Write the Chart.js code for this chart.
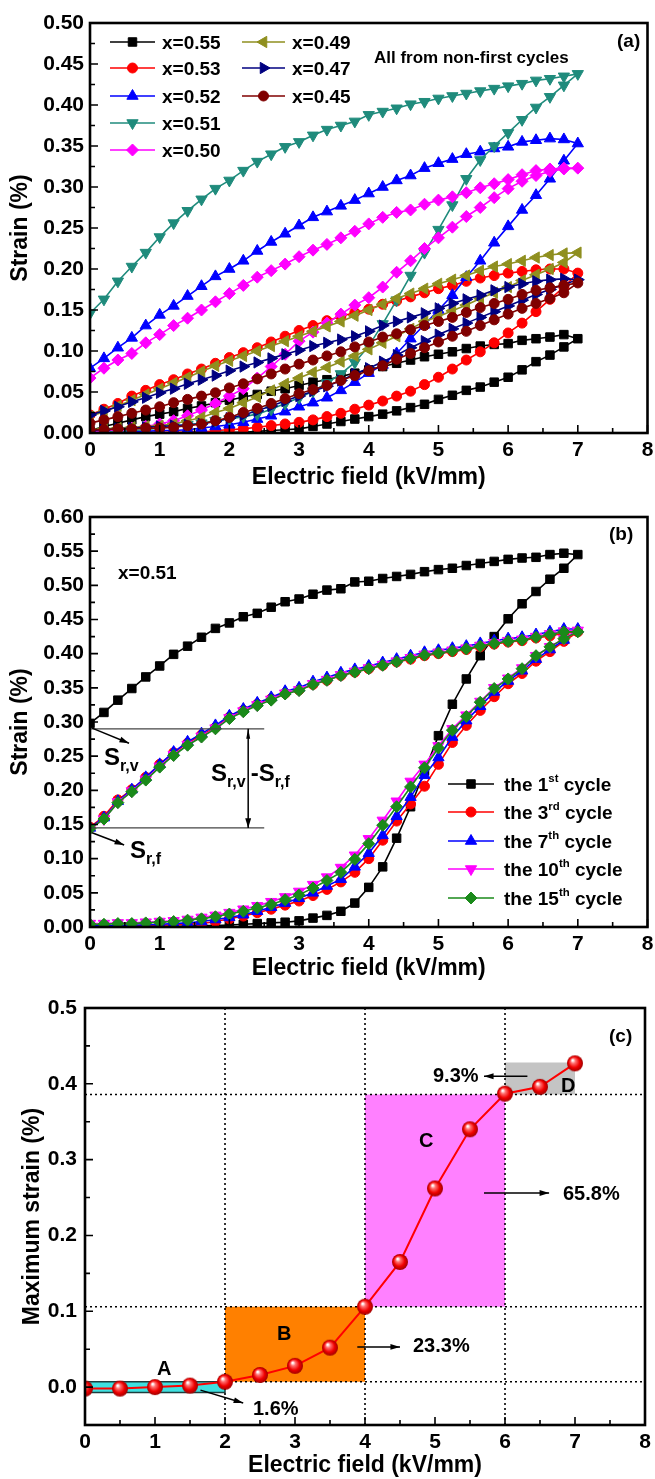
<!DOCTYPE html>
<html>
<head>
<meta charset="utf-8">
<title>Strain loops</title>
<script src="https://cdn.jsdelivr.net/npm/chart.js@4.4.1/dist/chart.umd.min.js"></script>
<style>
  body { margin: 0; background: #fff; }
  #page { position: relative; width: 655px; height: 1479px; overflow: hidden;
          font-family: "Liberation Sans", Arial, sans-serif; font-weight: bold; color: #000; }
  #page canvas { position: absolute; left: 0; }
  .t { position: absolute; white-space: nowrap; line-height: 1; transform: translateY(-50%); }
  .t sup { font-size: 0.6em; vertical-align: baseline; position: relative; top: -0.75em; }
  .t sub { font-size: 16px; vertical-align: baseline; position: relative; top: 6px; }
</style>
</head>
<body>
<div id="page">
  <canvas id="chartA" width="655" height="495" style="top:0"></canvas>
  <canvas id="chartB" width="655" height="490" style="top:495px"></canvas>
  <canvas id="chartC" width="655" height="494" style="top:985px"></canvas>

  <!-- (a) -->
  <div class="t" style="left:162px;top:42px;font-size:19px">x=0.55</div>
  <div class="t" style="left:162px;top:68px;font-size:19px">x=0.53</div>
  <div class="t" style="left:162px;top:96px;font-size:19px">x=0.52</div>
  <div class="t" style="left:162px;top:123px;font-size:19px">x=0.51</div>
  <div class="t" style="left:162px;top:150px;font-size:19px">x=0.50</div>
  <div class="t" style="left:292px;top:42px;font-size:19px">x=0.49</div>
  <div class="t" style="left:292px;top:68px;font-size:19px">x=0.47</div>
  <div class="t" style="left:292px;top:96px;font-size:19px">x=0.45</div>
  <div class="t" style="left:374px;top:57px;font-size:17px">All from non-first cycles</div>
  <div class="t" style="left:617px;top:40px;font-size:19px">(a)</div>

  <!-- (b) -->
  <div class="t" style="left:609px;top:533px;font-size:19px">(b)</div>
  <div class="t" style="left:118px;top:572px;font-size:19px">x=0.51</div>
  <div class="t" style="left:104px;top:757px;font-size:24px">S<sub>r,v</sub></div>
  <div class="t" style="left:211px;top:773px;font-size:24px">S<sub>r,v</sub><span style="margin-left:5px">-S</span><sub>r,f</sub></div>
  <div class="t" style="left:130px;top:850px;font-size:24px">S<sub>r,f</sub></div>
  <div class="t" style="left:504px;top:784px;font-size:19px">the 1<sup>st</sup> cycle</div>
  <div class="t" style="left:504px;top:812px;font-size:19px">the 3<sup>rd</sup> cycle</div>
  <div class="t" style="left:504px;top:841px;font-size:19px">the 7<sup>th</sup> cycle</div>
  <div class="t" style="left:504px;top:869px;font-size:19px">the 10<sup>th</sup> cycle</div>
  <div class="t" style="left:504px;top:898px;font-size:19px">the 15<sup>th</sup> cycle</div>

  <!-- (c) -->
  <div class="t" style="left:609px;top:1035px;font-size:19px">(c)</div>
  <div class="t" style="left:433px;top:1075px;font-size:20px">9.3%</div>
  <div class="t" style="left:561px;top:1085px;font-size:20px">D</div>
  <div class="t" style="left:419px;top:1140px;font-size:20px">C</div>
  <div class="t" style="left:563px;top:1193px;font-size:20px">65.8%</div>
  <div class="t" style="left:277px;top:1333px;font-size:20px">B</div>
  <div class="t" style="left:413px;top:1345px;font-size:20px">23.3%</div>
  <div class="t" style="left:157px;top:1368px;font-size:20px">A</div>
  <div class="t" style="left:253px;top:1408px;font-size:20px">1.6%</div>
</div>

<script>
const FONT = '"Liberation Sans", Arial, sans-serif';
Chart.defaults.font.family = FONT;
Chart.defaults.color = '#000';

// field steps of the loops (kV/mm)
const field = [0,0.2,0.4,0.6,0.8,1,1.2,1.4,1.6,1.8,2,2.2,2.4,2.6,2.8,3,3.2,3.4,3.6,3.8,
               4,4.2,4.4,4.6,4.8,5,5.2,5.4,5.6,5.8,6,6.2,6.4,6.6,6.8,7];

// (a) non-first cycles, rising field (Up) and falling field (Down), strain in %
const a55Up   = [0,0,0,0,0,0,0,0.001,0.001,0.001,0.001,0.001,0.002,0.003,0.004,0.005,0.008,0.011,0.014,0.017,0.02,0.023,0.027,0.031,0.035,0.041,0.046,0.052,0.056,0.062,0.068,0.077,0.087,0.095,0.105,0.115];
const a55Down = [0.003,0.008,0.012,0.016,0.02,0.023,0.026,0.03,0.033,0.037,0.04,0.044,0.047,0.051,0.054,0.058,0.062,0.065,0.069,0.073,0.077,0.081,0.085,0.089,0.093,0.096,0.099,0.103,0.106,0.108,0.109,0.113,0.115,0.117,0.12,0.115];
const a53Up   = [0.001,0.001,0.001,0.001,0.001,0.001,0.001,0.001,0.001,0.003,0.004,0.005,0.007,0.009,0.011,0.013,0.016,0.02,0.024,0.029,0.034,0.039,0.045,0.051,0.059,0.068,0.078,0.089,0.099,0.11,0.122,0.134,0.148,0.163,0.178,0.195];
const a53Down = [0.022,0.029,0.036,0.045,0.052,0.059,0.065,0.072,0.078,0.085,0.092,0.098,0.104,0.111,0.118,0.125,0.131,0.137,0.142,0.147,0.151,0.157,0.161,0.166,0.171,0.176,0.18,0.185,0.189,0.192,0.195,0.197,0.199,0.2,0.2,0.195];
const a52Up   = [0.001,0.001,0.001,0.002,0.002,0.003,0.003,0.004,0.006,0.008,0.01,0.013,0.017,0.021,0.026,0.032,0.037,0.043,0.052,0.062,0.073,0.083,0.097,0.115,0.132,0.15,0.168,0.19,0.21,0.232,0.252,0.272,0.29,0.31,0.332,0.353];
const a52Down = [0.079,0.091,0.104,0.116,0.131,0.144,0.155,0.167,0.179,0.191,0.2,0.21,0.222,0.233,0.243,0.253,0.263,0.27,0.277,0.284,0.292,0.3,0.308,0.314,0.323,0.329,0.334,0.34,0.343,0.347,0.349,0.355,0.357,0.359,0.358,0.353];
const a51Up   = [0.001,0.002,0.002,0.003,0.004,0.006,0.008,0.01,0.012,0.015,0.017,0.02,0.023,0.029,0.036,0.043,0.051,0.061,0.072,0.086,0.106,0.133,0.162,0.192,0.22,0.248,0.278,0.31,0.333,0.35,0.366,0.382,0.397,0.41,0.424,0.438];
const a51Down = [0.146,0.163,0.185,0.203,0.22,0.239,0.256,0.271,0.285,0.298,0.308,0.32,0.331,0.34,0.349,0.355,0.363,0.37,0.375,0.38,0.388,0.392,0.396,0.401,0.404,0.408,0.411,0.414,0.417,0.42,0.423,0.426,0.43,0.432,0.435,0.438];
const a50Up   = [0.002,0.003,0.004,0.006,0.008,0.011,0.015,0.021,0.028,0.036,0.045,0.054,0.067,0.081,0.096,0.112,0.123,0.134,0.145,0.156,0.165,0.178,0.196,0.21,0.225,0.238,0.251,0.264,0.275,0.287,0.298,0.307,0.314,0.319,0.322,0.323];
const a50Down = [0.067,0.079,0.089,0.097,0.11,0.12,0.131,0.14,0.15,0.16,0.17,0.18,0.19,0.198,0.206,0.215,0.223,0.23,0.238,0.246,0.255,0.263,0.269,0.272,0.279,0.284,0.288,0.293,0.299,0.304,0.309,0.315,0.32,0.322,0.323,0.323];
const a49Up   = [0.004,0.005,0.006,0.007,0.008,0.009,0.011,0.015,0.019,0.025,0.03,0.037,0.044,0.052,0.06,0.067,0.074,0.08,0.087,0.094,0.102,0.11,0.118,0.127,0.136,0.142,0.149,0.156,0.164,0.171,0.178,0.186,0.193,0.2,0.208,0.22];
const a49Down = [0.02,0.026,0.033,0.04,0.047,0.054,0.061,0.068,0.075,0.082,0.088,0.094,0.1,0.106,0.112,0.118,0.124,0.13,0.136,0.143,0.15,0.157,0.164,0.17,0.176,0.182,0.187,0.192,0.198,0.203,0.206,0.21,0.214,0.217,0.219,0.22];
const a47Up   = [0.003,0.004,0.005,0.006,0.007,0.008,0.009,0.01,0.011,0.014,0.018,0.022,0.027,0.033,0.039,0.045,0.051,0.057,0.064,0.072,0.079,0.087,0.095,0.104,0.112,0.12,0.127,0.134,0.141,0.148,0.155,0.162,0.169,0.175,0.181,0.187];
const a47Down = [0.022,0.027,0.032,0.038,0.043,0.049,0.054,0.06,0.065,0.07,0.076,0.081,0.086,0.091,0.096,0.101,0.106,0.11,0.114,0.118,0.124,0.131,0.136,0.141,0.146,0.152,0.158,0.163,0.168,0.174,0.178,0.182,0.185,0.187,0.188,0.187];
const a45Up   = [0.004,0.004,0.005,0.005,0.006,0.006,0.007,0.009,0.011,0.015,0.019,0.025,0.03,0.036,0.042,0.048,0.053,0.058,0.064,0.07,0.076,0.082,0.09,0.097,0.104,0.111,0.118,0.124,0.131,0.138,0.145,0.152,0.158,0.164,0.171,0.183];
const a45Down = [0.012,0.016,0.02,0.024,0.028,0.032,0.037,0.041,0.045,0.049,0.055,0.06,0.066,0.072,0.078,0.084,0.089,0.094,0.099,0.105,0.111,0.117,0.121,0.126,0.131,0.136,0.141,0.147,0.153,0.158,0.163,0.169,0.174,0.177,0.18,0.183];

// (b) x=0.51, cycle number 1, 3, 7, 10, 15
const b1Up    = [0.001,0.001,0.001,0.001,0.001,0.001,0.001,0.001,0.002,0.002,0.003,0.004,0.005,0.006,0.007,0.009,0.013,0.017,0.023,0.035,0.058,0.088,0.13,0.176,0.228,0.28,0.326,0.363,0.397,0.425,0.451,0.473,0.491,0.509,0.525,0.545];
const b1Down  = [0.298,0.314,0.332,0.349,0.366,0.382,0.399,0.411,0.424,0.437,0.445,0.454,0.459,0.468,0.476,0.48,0.487,0.493,0.495,0.505,0.506,0.51,0.513,0.516,0.52,0.523,0.525,0.529,0.532,0.535,0.538,0.54,0.541,0.545,0.547,0.545];
const b3Up    = [0.001,0.001,0.001,0.002,0.002,0.003,0.003,0.004,0.005,0.008,0.012,0.016,0.021,0.026,0.032,0.038,0.046,0.055,0.066,0.08,0.1,0.127,0.155,0.18,0.206,0.238,0.27,0.295,0.317,0.337,0.356,0.371,0.389,0.403,0.418,0.432];
const b3Down  = [0.146,0.162,0.186,0.201,0.219,0.238,0.255,0.269,0.281,0.292,0.307,0.317,0.326,0.334,0.342,0.347,0.355,0.361,0.368,0.373,0.378,0.383,0.388,0.392,0.397,0.4,0.403,0.406,0.41,0.414,0.417,0.419,0.423,0.426,0.43,0.432];
const b7Up    = [0.002,0.002,0.002,0.003,0.003,0.004,0.005,0.006,0.008,0.011,0.014,0.018,0.023,0.029,0.035,0.042,0.05,0.06,0.07,0.088,0.108,0.134,0.162,0.19,0.222,0.248,0.278,0.302,0.323,0.344,0.36,0.375,0.392,0.406,0.42,0.436];
const b7Down  = [0.145,0.16,0.184,0.201,0.219,0.238,0.256,0.271,0.283,0.295,0.309,0.319,0.328,0.336,0.345,0.35,0.359,0.365,0.372,0.377,0.382,0.387,0.392,0.397,0.402,0.405,0.408,0.411,0.415,0.419,0.422,0.424,0.428,0.432,0.436,0.436];
const b10Up   = [0.005,0.005,0.006,0.006,0.007,0.008,0.009,0.011,0.014,0.017,0.021,0.026,0.031,0.037,0.044,0.052,0.062,0.073,0.087,0.105,0.129,0.156,0.184,0.213,0.238,0.265,0.29,0.31,0.33,0.35,0.364,0.379,0.397,0.41,0.422,0.434];
const b10Down = [0.144,0.158,0.183,0.199,0.216,0.235,0.252,0.267,0.279,0.291,0.306,0.316,0.325,0.333,0.342,0.347,0.356,0.362,0.369,0.374,0.379,0.384,0.389,0.394,0.399,0.402,0.405,0.408,0.412,0.416,0.419,0.421,0.425,0.429,0.433,0.434];
const b15Up   = [0.004,0.004,0.005,0.005,0.006,0.007,0.008,0.01,0.012,0.015,0.019,0.023,0.028,0.033,0.04,0.047,0.057,0.068,0.08,0.099,0.122,0.149,0.176,0.205,0.233,0.262,0.288,0.308,0.329,0.349,0.363,0.378,0.397,0.41,0.422,0.432];
const b15Down = [0.144,0.158,0.182,0.198,0.215,0.234,0.251,0.266,0.278,0.29,0.305,0.315,0.324,0.332,0.341,0.346,0.355,0.361,0.368,0.373,0.378,0.383,0.388,0.393,0.398,0.401,0.404,0.407,0.411,0.415,0.418,0.42,0.424,0.428,0.432,0.432];

// (c) maximum strain vs field
const cField  = [0,0.5,1,1.5,2,2.5,3,3.5,4,4.5,5,5.5,6,6.5,7];
const cStrain = [-0.002,-0.002,0,0.002,0.007,0.016,0.028,0.052,0.106,0.165,0.262,0.34,0.387,0.396,0.427];
// shaded stages A-D and the dotted guides
const stageLeft  = [0, 2, 4, 6];
const stageRight = [2, 4, 6, 7];
const stageLow   = [-0.007, 0.007, 0.106, 0.386];
const stageHigh  = [0.007, 0.106, 0.386, 0.428];
const guideX     = [2, 4, 6];
const guideY     = [0.007, 0.106, 0.386];
const guideYFrom = [2, 0, 0];

// (b) remanent strain levels
const srLevels = [0.29, 0.145];
const srEnd = 2.5;

// ticks
const xTicks  = [0,1,2,3,4,5,6,7,8];
const xMinor  = [0.5,1.5,2.5,3.5,4.5,5.5,6.5,7.5];
const yTicksA = [0,0.05,0.1,0.15,0.2,0.25,0.3,0.35,0.4,0.45,0.5];
const yMinorA = [0.025,0.075,0.125,0.175,0.225,0.275,0.325,0.375,0.425,0.475];
const yTicksB = [0,0.05,0.1,0.15,0.2,0.25,0.3,0.35,0.4,0.45,0.5,0.55,0.6];
const yMinorB = [0.025,0.075,0.125,0.175,0.225,0.275,0.325,0.375,0.425,0.475,0.525,0.575];
const yTicksC = [0,0.1,0.2,0.3,0.4,0.5];
const yMinorC = [0.05,0.15,0.25,0.35,0.45];

// one loop: rising branch then falling branch back to zero
function makeLoop(up, down) {
  const pts = field.map((f, i) => ({ x: f, y: up[i] }));
  for (let i = field.length - 2; i >= 0; i--) pts.push({ x: field[i], y: down[i] });
  return pts;
}

function loopDataset(label, up, down, color, style, rotation, radius, i) {
  return {
    label: label,
    data: makeLoop(up, down),
    borderColor: color,
    backgroundColor: color,
    pointBackgroundColor: color,
    pointBorderColor: color,
    pointBorderWidth: 1,
    pointStyle: style,
    pointRotation: rotation,
    pointRadius: radius,
    borderWidth: 1.6,
    order: -i
  };
}

function axes(o) {
  return {
    x: {
      type: 'linear', min: 0, max: 8,
      afterBuildTicks: s => { s.ticks = xTicks.map(v => ({ value: v })); },
      afterFit: s => { s.height = o.xHeight; s.paddingLeft = 0; s.paddingRight = 0; },
      grid: { display: false, drawTicks: false },
      border: { display: false },
      ticks: { font: { size: 21, weight: 'bold' }, color: '#000', padding: 5, maxRotation: 0, autoSkip: false },
      title: { display: true, text: 'Electric field (kV/mm)', font: { size: 23, weight: 'bold' }, color: '#000',
               padding: { top: 0, bottom: o.xTitlePad } }
    },
    y: {
      min: o.yMin, max: o.yMax,
      afterBuildTicks: s => { s.ticks = o.yTicks.map(v => ({ value: v })); },
      afterFit: s => { s.width = o.yWidth; s.paddingTop = 0; s.paddingBottom = 0; },
      grid: { display: false, drawTicks: false },
      border: { display: false },
      ticks: { font: { size: 21, weight: 'bold' }, color: '#000', padding: o.yPad, autoSkip: false,
               callback: v => v.toFixed(o.digits) },
      title: { display: true, text: o.yTitle, font: { size: 23, weight: 'bold' }, color: '#000',
               padding: { top: o.yTitlePad, bottom: 0 } }
    }
  };
}

// frame box with inward major/minor ticks
function framePlugin(yMinor) {
  return {
    id: 'frame',
    afterDraw(chart) {
      const { ctx, chartArea: a } = chart;
      const sx = chart.scales.x, sy = chart.scales.y;
      ctx.save();
      ctx.strokeStyle = '#000';
      ctx.lineWidth = 1.6;
      ctx.beginPath();
      sx.ticks.forEach(t => { const p = sx.getPixelForValue(t.value); ctx.moveTo(p, a.bottom); ctx.lineTo(p, a.bottom - 8); });
      xMinor.forEach(v => { const p = sx.getPixelForValue(v); ctx.moveTo(p, a.bottom); ctx.lineTo(p, a.bottom - 5); });
      sy.ticks.forEach(t => { const p = sy.getPixelForValue(t.value); ctx.moveTo(a.left, p); ctx.lineTo(a.left + 8, p); });
      yMinor.forEach(v => { const p = sy.getPixelForValue(v); ctx.moveTo(a.left, p); ctx.lineTo(a.left + 5, p); });
      ctx.stroke();
      ctx.lineWidth = 2.6;
      ctx.strokeRect(a.left, a.top, a.right - a.left, a.bottom - a.top);
      ctx.restore();
    }
  };
}

// legend line + marker, drawn with each dataset's own style
function swatchPlugin(rows) {
  return {
    id: 'swatches',
    afterDraw(chart) {
      const ctx = chart.ctx;
      rows.forEach(r => {
        const ds = chart.data.datasets[r.ds];
        ctx.save();
        ctx.strokeStyle = ds.borderColor;
        ctx.lineWidth = 1.6;
        ctx.beginPath(); ctx.moveTo(r.x1, r.y); ctx.lineTo(r.x2, r.y); ctx.stroke();
        ctx.fillStyle = ds.pointBackgroundColor;
        ctx.lineWidth = 1;
        Chart.helpers.drawPoint(ctx, { pointStyle: ds.pointStyle, rotation: ds.pointRotation || 0,
                                       radius: ds.pointRadius, borderWidth: 1 }, (r.x1 + r.x2) / 2, r.y);
        ctx.restore();
      });
    }
  };
}

function arrowHead(ctx, x1, y1, x2, y2, len, w) {
  const ang = Math.atan2(y2 - y1, x2 - x1);
  ctx.beginPath();
  ctx.moveTo(x2, y2);
  ctx.lineTo(x2 - len * Math.cos(ang - w), y2 - len * Math.sin(ang - w));
  ctx.lineTo(x2 - len * Math.cos(ang + w), y2 - len * Math.sin(ang + w));
  ctx.closePath();
  ctx.fill();
}

// arrows given in data units: [x1, y1, x2, y2, bothEnds]
function arrowPlugin(arrows) {
  return {
    id: 'arrows',
    afterDatasetsDraw(chart) {
      const ctx = chart.ctx, sx = chart.scales.x, sy = chart.scales.y;
      ctx.save();
      ctx.strokeStyle = '#000'; ctx.fillStyle = '#000'; ctx.lineWidth = 1.5;
      arrows.forEach(a => {
        const x1 = sx.getPixelForValue(a[0]), y1 = sy.getPixelForValue(a[1]);
        const x2 = sx.getPixelForValue(a[2]), y2 = sy.getPixelForValue(a[3]);
        ctx.beginPath(); ctx.moveTo(x1, y1); ctx.lineTo(x2, y2); ctx.stroke();
        arrowHead(ctx, x1, y1, x2, y2, 10, 0.3);
        if (a[4]) arrowHead(ctx, x2, y2, x1, y1, 10, 0.2);
      });
      ctx.restore();
    }
  };
}

const baseOptions = {
  responsive: false,
  animation: false,
  events: [],
  plugins: { legend: { display: false }, tooltip: { enabled: false } }
};

// ---------- (a)
const chartA = new Chart(document.getElementById('chartA'), {
  type: 'line',
  data: {
    datasets: [
      loopDataset('x=0.55', a55Up, a55Down, '#000000', 'rect', 0, 6, 0),
      loopDataset('x=0.53', a53Up, a53Down, '#ff0000', 'circle', 0, 5, 1),
      loopDataset('x=0.52', a52Up, a52Down, '#0000ff', 'triangle', 0, 6.5, 2),
      loopDataset('x=0.51', a51Up, a51Down, '#1f8b7c', 'triangle', 180, 6.5, 3),
      loopDataset('x=0.50', a50Up, a50Down, '#ff00ff', 'rectRot', 0, 6, 4),
      loopDataset('x=0.49', a49Up, a49Down, '#8f8f1f', 'triangle', -90, 6.5, 5),
      loopDataset('x=0.47', a47Up, a47Down, '#000080', 'triangle', 90, 6.5, 6),
      loopDataset('x=0.45', a45Up, a45Down, '#800000', 'circle', 0, 5, 7)
    ]
  },
  options: Object.assign({}, baseOptions, {
    layout: { padding: { top: 23, right: 7, left: 0, bottom: 0 } },
    scales: axes({ yMin: 0, yMax: 0.5, yTicks: yTicksA, digits: 2, yTitle: 'Strain (%)',
                   yWidth: 90, yPad: 6, yTitlePad: 7, xHeight: 62, xTitlePad: 4 })
  }),
  plugins: [
    framePlugin(yMinorA),
    swatchPlugin([
      { ds: 0, x1: 110, x2: 155, y: 42 }, { ds: 1, x1: 110, x2: 155, y: 68 },
      { ds: 2, x1: 110, x2: 155, y: 96 }, { ds: 3, x1: 110, x2: 155, y: 123 },
      { ds: 4, x1: 110, x2: 155, y: 150 },
      { ds: 5, x1: 242, x2: 285, y: 42 }, { ds: 6, x1: 242, x2: 285, y: 68 },
      { ds: 7, x1: 242, x2: 285, y: 96 }
    ])
  ]
});

// ---------- (b)
function srLine(level) {
  return { data: [{ x: 0, y: level }, { x: srEnd, y: level }], borderColor: '#444', borderWidth: 1.3,
           pointRadius: 0, order: -20 };
}

const chartB = new Chart(document.getElementById('chartB'), {
  type: 'line',
  data: {
    datasets: [
      loopDataset('the 1st cycle', b1Up, b1Down, '#000000', 'rect', 0, 6, 0),
      loopDataset('the 3rd cycle', b3Up, b3Down, '#ff0000', 'circle', 0, 5, 1),
      loopDataset('the 7th cycle', b7Up, b7Down, '#0000ff', 'triangle', 0, 6.5, 2),
      loopDataset('the 10th cycle', b10Up, b10Down, '#ff00ff', 'triangle', 180, 6.5, 3),
      loopDataset('the 15th cycle', b15Up, b15Down, '#1a8a1a', 'rectRot', 0, 6, 4),
      srLine(srLevels[0]),
      srLine(srLevels[1])
    ]
  },
  options: Object.assign({}, baseOptions, {
    layout: { padding: { top: 22, right: 7, left: 0, bottom: 0 } },
    scales: axes({ yMin: 0, yMax: 0.6, yTicks: yTicksB, digits: 2, yTitle: 'Strain (%)',
                   yWidth: 90, yPad: 6, yTitlePad: 7, xHeight: 58, xTitlePad: 3 })
  }),
  plugins: [
    framePlugin(yMinorB),
    swatchPlugin([
      { ds: 0, x1: 448, x2: 494, y: 289 }, { ds: 1, x1: 448, x2: 494, y: 317 },
      { ds: 2, x1: 448, x2: 494, y: 346 }, { ds: 3, x1: 448, x2: 494, y: 374 },
      { ds: 4, x1: 448, x2: 494, y: 403 }
    ]),
    arrowPlugin([
      [0.03, 0.291, 0.56, 0.269, false],
      [0.03, 0.138, 0.49, 0.12, false],
      [2.27, srLevels[0], 2.27, srLevels[1], true]
    ])
  ]
});

// ---------- (c)
function sphere(r) {
  const c = document.createElement('canvas');
  c.width = c.height = 2 * r + 2;
  const g = c.getContext('2d');
  const grad = g.createRadialGradient(r + 1 - r * 0.3, r + 1 - r * 0.4, r * 0.08, r + 1, r + 1, r);
  grad.addColorStop(0, '#ffffff');
  grad.addColorStop(0.25, '#ff7070');
  grad.addColorStop(0.65, '#f00000');
  grad.addColorStop(1, '#a00000');
  g.fillStyle = grad;
  g.beginPath(); g.arc(r + 1, r + 1, r, 0, 2 * Math.PI); g.fill();
  return c;
}

const stageColors = ['#3fe0e0', '#ff8000', '#ff80ff', '#c4c4c4'];
const stageSets = stageLeft.map((l, i) => ({
  data: [{ x: l, y: stageHigh[i] }, { x: stageRight[i], y: stageHigh[i] }],
  borderWidth: 0, pointRadius: 0,
  backgroundColor: stageColors[i],
  fill: { target: { value: stageLow[i] } },
  order: 10
}));
const stageAOutline = {
  data: [{ x: stageLeft[0], y: stageLow[0] }, { x: stageRight[0], y: stageLow[0] },
         { x: stageRight[0], y: stageHigh[0] }, { x: stageLeft[0], y: stageHigh[0] },
         { x: stageLeft[0], y: stageLow[0] }],
  borderColor: '#1d3d3d', borderWidth: 1.5, pointRadius: 0, fill: false, order: 9
};
const guideSets = guideX.map(g => ({
  data: [{ x: g, y: -0.05 }, { x: g, y: 0.5 }],
  borderColor: '#000', borderWidth: 1.6, borderDash: [2, 3], pointRadius: 0, fill: false, order: 5
})).concat(guideY.map((g, i) => ({
  data: [{ x: guideYFrom[i], y: g }, { x: 8, y: g }],
  borderColor: '#000', borderWidth: 1.6, borderDash: [2, 3], pointRadius: 0, fill: false, order: 5
})));

const chartC = new Chart(document.getElementById('chartC'), {
  type: 'line',
  data: {
    datasets: stageSets.concat([stageAOutline], guideSets, [{
      label: 'Maximum strain',
      data: cField.map((f, i) => ({ x: f, y: cStrain[i] })),
      borderColor: '#ff0000',
      borderWidth: 2,
      pointStyle: sphere(8),
      pointRadius: 8,
      fill: false,
      order: -10
    }])
  },
  options: Object.assign({}, baseOptions, {
    layout: { padding: { top: 23, right: 7, left: 0, bottom: 0 } },
    scales: axes({ yMin: -0.05, yMax: 0.5, yTicks: yTicksC, digits: 1, yTitle: 'Maximum strain (%)',
                   yWidth: 85, yPad: 8, yTitlePad: 19, xHeight: 54, xTitlePad: 0 })
  }),
  plugins: [
    framePlugin(yMinorC),
    arrowPlugin([
      [6.32, 0.41, 5.7, 0.41, false],
      [5.7, 0.256, 6.63, 0.256, false],
      [3.89, 0.053, 4.5, 0.053, false],
      [1.65, -0.004, 2.26, -0.021, false]
    ])
  ]
});
</script>
</body>
</html>
